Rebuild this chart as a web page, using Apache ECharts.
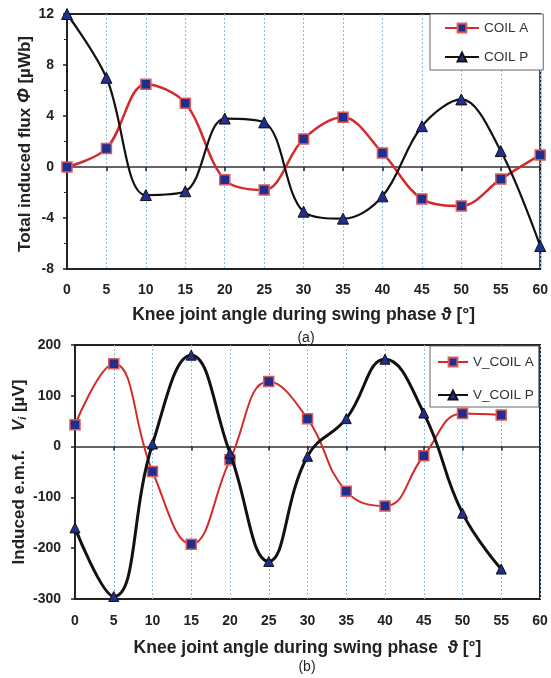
<!DOCTYPE html>
<html><head><meta charset="utf-8">
<script src="https://cdn.jsdelivr.net/npm/echarts@6/dist/echarts.min.js"></script>
<style>html,body{margin:0;padding:0;background:#fff}#c{width:551px;height:678px}</style>
</head><body><div id="c"></div>
<script>
const angles = [0,5,10,15,20,25,30,35,40,45,50,55,60];
const coilA = [0,1.45,6.5,5.0,-1.0,-1.8,2.2,3.9,1.1,-2.5,-3.05,-0.95,0.95];
const coilP = [12,7.0,-2.2,-1.9,3.8,3.5,-3.5,-4.05,-2.3,3.2,5.3,1.25,-6.2];
const anglesB = [0,5,10,15,20,25,30,35,40,45,50,55];
const vCoilA = [43,163,-49,-192,-26,128,55,-88,-117,-18,65,62];
const vCoilP = [-160,-295,5,180,-13,-226,-19,55,172,66,-131,-241];
const yTicksA = [-8,-4,0,4,8,12];
const yTicksB = [-300,-200,-100,0,100,200];

const pairs = (xs, ys) => xs.map((x,i)=>[x, ys[i]]);
const FONT = '"Liberation Sans", Arial, sans-serif';
const chart = echarts.init(document.getElementById('c'), null, {renderer:'canvas'});

const xZero = (g) => ({
  type:'value', gridIndex:g, min:0, max:60, interval:5, position:'bottom',
  axisLine:{show:true, onZero:true, lineStyle:{color:'#333', width:1.5}},
  axisTick:{show:true, inside:false, length:4, lineStyle:{color:'#222', width:1.5}},
  axisLabel:{show:false}, splitLine:{show:false}
});
const xLab = (g) => ({
  type:'value', gridIndex:g, min:0, max:60, interval:5, position:'bottom',
  axisLine:{show:false, onZero:false}, axisTick:{show:false},
  axisLabel:{show:true, margin: g===0 ? 14 : 15, fontFamily:FONT, fontWeight:'bold', fontSize:14, color:'#222'},
  splitLine:{show:true, lineStyle:{color:'#8fbbe8', type:[2,2], width:1}},
  name: g===0 ? 'Knee joint angle during swing phase \u03D1 [°]' : 'Knee joint angle during swing phase  \u03D1 [°]',
  nameLocation:'middle', nameGap: g===0 ? 37 : 40,
  nameTextStyle:{fontFamily:FONT, fontWeight:'bold', fontSize:17.5, color:'#222'}
});

chart.setOption({
  animation:false,
  backgroundColor:'#fff',
  grid:[
    {left:67, right:6, top:14, height:255, show:true, borderColor:'#222', borderWidth:2, backgroundColor:'transparent'},
    {left:75, right:11, top:345, height:254, show:true, borderColor:'#222', borderWidth:2, backgroundColor:'transparent'}
  ],
  xAxis:[xZero(0), xLab(0), xZero(1), xLab(1)],
  yAxis:[
    {type:'value', gridIndex:0, min:yTicksA[0], max:yTicksA[yTicksA.length-1], interval:4,
     axisLine:{show:true, lineStyle:{color:'#222', width:2}},
     axisTick:{show:true, length:4, lineStyle:{color:'#222', width:1.5}},
     minorTick:{show:true, splitNumber:2, length:3, lineStyle:{color:'#222'}},
     axisLabel:{margin:13, fontFamily:FONT, fontWeight:'bold', fontSize:14, color:'#222'},
     splitLine:{show:false}},
    {type:'value', gridIndex:1, min:yTicksB[0], max:yTicksB[yTicksB.length-1], interval:100,
     axisLine:{show:true, lineStyle:{color:'#222', width:2}},
     axisTick:{show:true, length:4, lineStyle:{color:'#222', width:1.5}},
     axisLabel:{margin:14, fontFamily:FONT, fontWeight:'bold', fontSize:14, color:'#222'},
     splitLine:{show:false}}
  ],
  legend:[
    {orient:'vertical', left:430, top:14, data:['COIL A','COIL P'],
     backgroundColor:'#fff', borderColor:'#666', borderWidth:1, padding:[7,15,6,14], itemGap:15,
     itemWidth:34, itemHeight:11, textStyle:{fontFamily:FONT, fontSize:13.5, color:'#333'}},
    {orient:'vertical', left:430, top:346, data:['V_COIL A','V_COIL P'],
     backgroundColor:'#fff', borderColor:'#666', borderWidth:1, padding:[9,5,5,7], itemGap:19,
     itemWidth:30, itemHeight:11, textStyle:{fontFamily:FONT, fontSize:13.5, color:'#333'}}
  ],
  series:[
    {name:'COIL A', type:'line', xAxisIndex:0, yAxisIndex:0, data:pairs(angles, coilA), smooth:0.35,
     symbol:'rect', symbolSize:10, lineStyle:{color:'#d42a2a', width:2.5},
     itemStyle:{color:'#1f2f8f', borderColor:'#e05a5a', borderWidth:1.5}, z:3},
    {name:'COIL P', type:'line', xAxisIndex:0, yAxisIndex:0, data:pairs(angles, coilP), smooth:0.35,
     symbol:'triangle', symbolSize:11, lineStyle:{color:'#111', width:2.2},
     itemStyle:{color:'#1f2f8f', borderColor:'#111', borderWidth:1}, z:4},
    {name:'V_COIL A', type:'line', xAxisIndex:2, yAxisIndex:1, data:pairs(anglesB, vCoilA), smooth:0.45,
     symbol:'rect', symbolSize:10, lineStyle:{color:'#d42a2a', width:2},
     itemStyle:{color:'#1f2f8f', borderColor:'#e05a5a', borderWidth:1.5}, z:3},
    {name:'V_COIL P', type:'line', xAxisIndex:2, yAxisIndex:1, data:pairs(anglesB, vCoilP), smooth:0.45,
     symbol:'triangle', symbolSize:10, lineStyle:{color:'#111', width:3},
     itemStyle:{color:'#1f2f8f', borderColor:'#111', borderWidth:1}, z:4}
  ],
  graphic:[
    {type:'text', x:25, y:144, rotation:Math.PI/2, style:{
      text:'Total induced flux {i|\u03A6} [\u00B5Wb]', align:'center', verticalAlign:'middle',
      font:'bold 17px '+FONT, fill:'#222',
      rich:{i:{font:'italic bold 18px '+FONT, fill:'#222'}}}},
    {type:'text', x:19, y:472, rotation:Math.PI/2, style:{
      text:'Induced e.m.f.    {v|V}{s|i} [\u00B5V]', align:'center', verticalAlign:'middle',
      font:'bold 17px '+FONT, fill:'#222',
      rich:{v:{font:'italic bold 17px '+FONT, fill:'#222'}, s:{font:'italic bold 11px '+FONT, fill:'#222', verticalAlign:'bottom', padding:[7,0,0,0]}}}},
    {type:'text', x:306, y:338, style:{text:'(a)', align:'center', verticalAlign:'middle', font:'14px '+FONT, fill:'#222'}},
    {type:'text', x:307, y:667, style:{text:'(b)', align:'center', verticalAlign:'middle', font:'14px '+FONT, fill:'#222'}}
  ]
});
</script></body></html>
